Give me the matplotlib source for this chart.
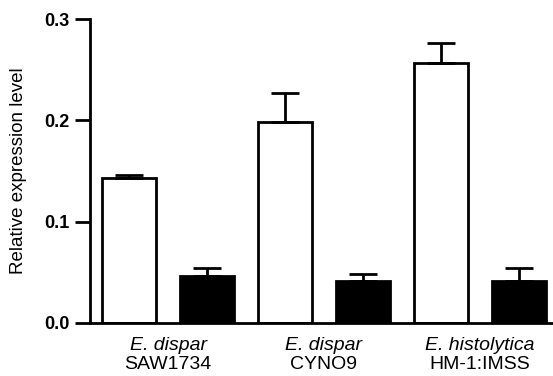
import numpy as np
import matplotlib
matplotlib.use("Agg")
import matplotlib.pyplot as plt

plt.rcParams['font.family'] = ['Liberation Sans', 'DejaVu Sans']

# data
species = ['E. dispar', 'E. dispar', 'E. histolytica']
strains = ['SAW1734', 'CYNO9', 'HM-1:IMSS']
white_vals = [0.143, 0.198, 0.257]
white_err = [0.003, 0.029, 0.019]
black_vals = [0.046, 0.041, 0.041]
black_err = [0.008, 0.007, 0.013]
yticks = [0.0, 0.1, 0.2, 0.3]

fig = plt.figure(figsize=(5.53, 3.76), dpi=100)
ax = fig.add_axes([0.163, 0.141, 0.837, 0.808])

x = np.arange(len(strains))
w = 0.346
off = 0.25

ax.bar(x - off, white_vals, w, color='white', edgecolor='black', linewidth=2,
       yerr=[np.zeros(3), white_err], error_kw=dict(ecolor='black', elinewidth=2,
                                                      capsize=10, capthick=2))
ax.bar(x + off, black_vals, w, color='black', edgecolor='black', linewidth=2,
       yerr=[np.zeros(3), black_err], error_kw=dict(ecolor='black', elinewidth=2,
                                                      capsize=10, capthick=2))

ax.set_xlim(-0.5, 2.47)
ax.set_ylim(0, 0.3)
ax.set_yticks(yticks)
ax.set_yticklabels(['%.1f' % t for t in yticks], fontsize=13, fontweight='bold')
ax.tick_params(axis='y', direction='out', length=11, width=2, pad=4)
ax.set_xticks([])

for s in ['top', 'right']:
    ax.spines[s].set_visible(False)
ax.spines['left'].set_linewidth(2)
ax.spines['bottom'].set_linewidth(2)

ax.set_ylabel('Relative expression level', fontsize=13.5, labelpad=12)

for i in range(len(strains)):
    ax.text(x[i], -0.022, species[i], ha='center', va='center', fontsize=14,
            style='italic', clip_on=False)
    ax.text(x[i], -0.041, strains[i], ha='center', va='center', fontsize=14,
            clip_on=False)

fig.savefig('out.png', dpi=100)
